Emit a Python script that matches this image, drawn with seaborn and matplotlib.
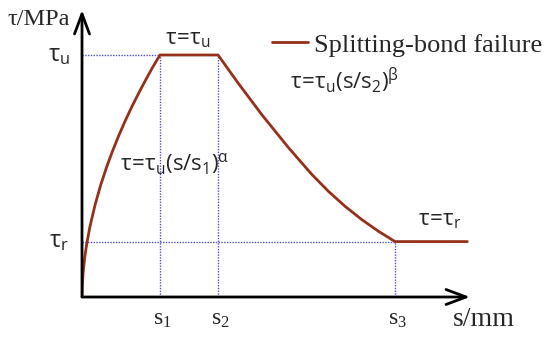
import numpy as np
import pandas as pd
import matplotlib
matplotlib.use("Agg")
import matplotlib.pyplot as plt
import seaborn as sns

# key points of the bond-slip model (normalised)
s1, s2, s3, s_end = 1.0, 1.744, 4.013, 4.94
tau_u, tau_r = 1.0, 0.229

# ascending branch  tau = tau_u (s/s1)^alpha
s_asc = [0, 0.004, 0.015, 0.035, 0.060, 0.100, 0.167, 0.240, 0.317, 0.390,
         0.465, 0.550, 0.637, 0.720, 0.808, 0.900, 1.0]
t_asc = [0, 0.050, 0.104, 0.164, 0.218, 0.288, 0.380, 0.463, 0.538, 0.602,
         0.662, 0.725, 0.785, 0.838, 0.892, 0.946, 1.0]

# descending branch  tau = tau_u (s/s2)^beta
s_desc = [1.744, 2.004, 2.304, 2.645, 2.945, 3.158, 3.372, 3.586, 3.799,
          4.013]
t_desc = [1.0, 0.883, 0.754, 0.618, 0.507, 0.437, 0.375, 0.320, 0.272,
          0.229]

s_all = s_asc + s_desc + [s_end]
t_all = t_asc + t_desc + [tau_r]
df = pd.DataFrame({"s": s_all, "tau": t_all})

sns.set_style("white")
W, H = 550, 340
fig = plt.figure(figsize=(W / 100, H / 100), dpi=100)
ax = fig.add_axes([82 / W, 43 / H, 390 / W, 290.4 / H])
ax.set_xlim(0, 5.0)
ax.set_ylim(0, 1.2)
for sp in ax.spines.values():
    sp.set_visible(False)
ax.set_xticks([])
ax.set_yticks([])

line_col = "#96301A"
guide = dict(color="#5050DD", lw=1.0, ls=(0, (1, 1)), zorder=1)

# dotted guide lines
ax.plot([0, s1], [tau_u, tau_u], **guide)
ax.plot([s1, s1], [0, tau_u], **guide)
ax.plot([s2, s2], [0, tau_u], **guide)
ax.plot([0, s3], [tau_r, tau_r], **guide)
ax.plot([s3, s3], [0, tau_r], **guide)

sns.lineplot(data=df, x="s", y="tau", sort=False, estimator=None,
             color=line_col, lw=2.0, ax=ax, zorder=3,
             solid_joinstyle="round", label="Splitting-bond failure")
ax.set_xlabel("")
ax.set_ylabel("")

# axes with arrows
arrow = dict(arrowstyle="->,head_length=0.8,head_width=0.3", lw=2.0,
             color="black", mutation_scale=18, shrinkA=0, shrinkB=0)
ax.annotate("", xy=(4.974, 0), xytext=(0, 0), arrowprops=arrow,
            annotation_clip=False, zorder=4)
ax.annotate("", xy=(0, 1.186), xytext=(0, 0), arrowprops=arrow,
            annotation_clip=False, zorder=4)

serif = ["Liberation Serif", "DejaVu Serif"]
sans = ["Open Sans", "DejaVu Sans"]

ax.text(-0.96, 1.145, "τ/MPa", family=serif, fontsize=17.5, va="center",
        ha="left")
ax.text(4.75, -0.095, "s/mm", family=serif, fontsize=20, va="center",
        ha="left")
for sv, lab in [(s1, "1"), (s2, "2"), (s3, "3")]:
    ax.text(sv + 0.03, -0.095, r"$\mathregular{s_{%s}}$" % lab, family=serif,
            fontsize=17, ha="center", va="center")

ax.text(-0.15, tau_u, r"$\mathregular{\tau_u}$", family=sans, fontsize=17,
        ha="right", va="center")
ax.text(-0.17, tau_r, r"$\mathregular{\tau_r}$", family=sans, fontsize=17,
        ha="right", va="center")

ax.text(1.36, 1.065, r"$\mathregular{\tau\!=\!\tau_u}$", family=sans,
        fontsize=16, ha="center", va="center")
ax.text(0.49, 0.52, r"$\mathregular{\tau\!=\!\tau_u(s/s_1)^{\alpha}}$",
        family=sans, fontsize=16, ha="left", va="baseline")
ax.text(2.67, 0.86, r"$\mathregular{\tau\!=\!\tau_u(s/s_2)^{\beta}}$",
        family=sans, fontsize=16, ha="left", va="baseline")
ax.text(4.31, 0.297, r"$\mathregular{\tau\!=\!\tau_r}$", family=sans,
        fontsize=16, ha="left", va="baseline")

leg = ax.legend(frameon=False, loc="center left",
                bbox_to_anchor=(272 / W, 1 - 45 / H),
                bbox_transform=fig.transFigure, borderpad=0,
                borderaxespad=0, handlelength=1.35, handletextpad=0.25,
                prop={"family": serif, "size": 19})

fig.savefig("out.png", dpi=100)
